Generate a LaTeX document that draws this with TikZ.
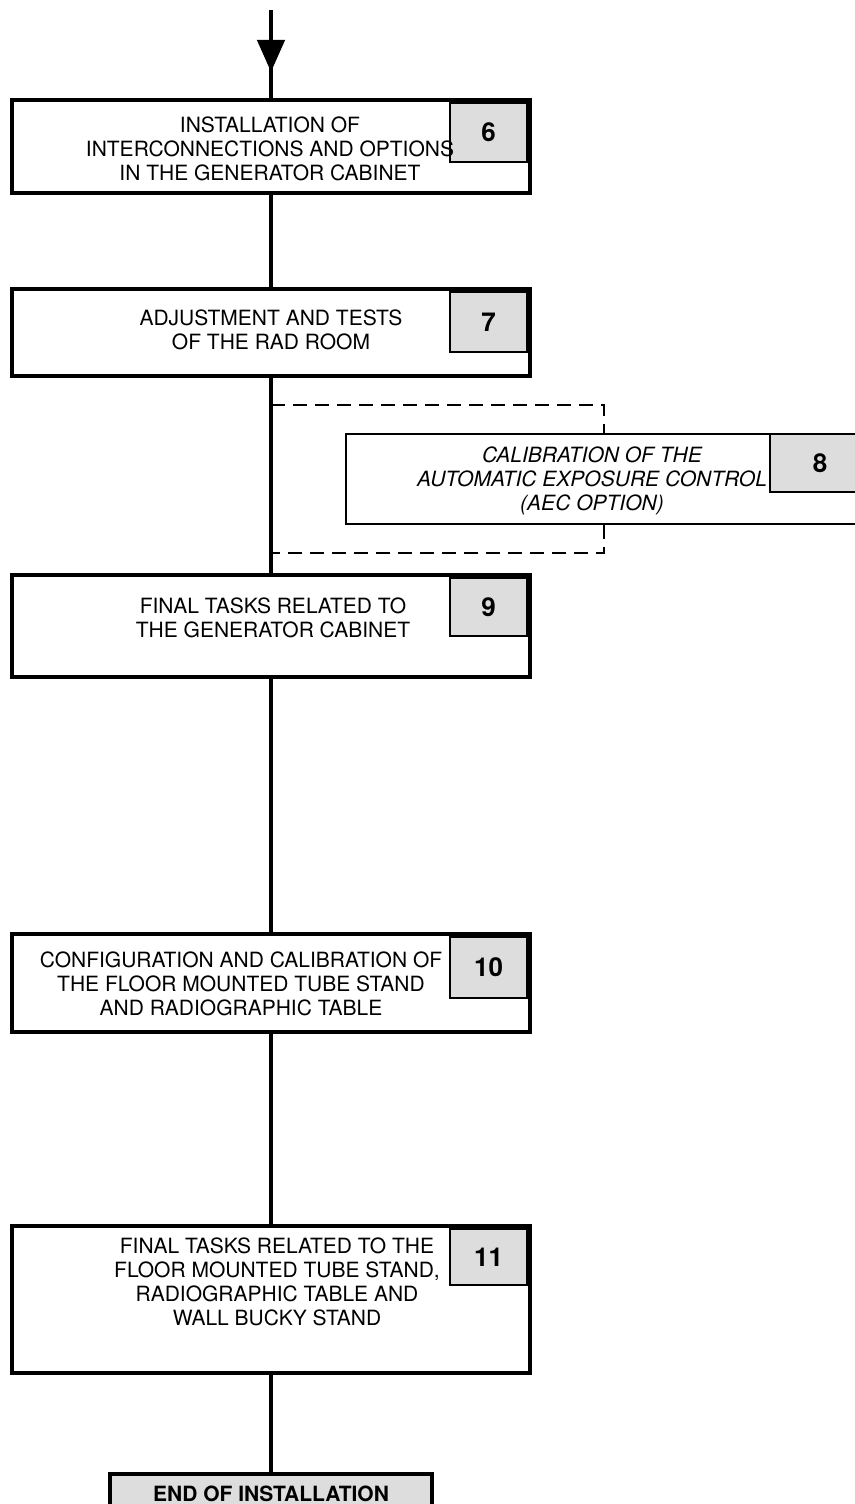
\documentclass[tikz,border=0pt]{standalone}
\usepackage{fontspec}
\setmainfont{TeX Gyre Heros}
\usetikzlibrary{positioning,arrows.meta,decorations.markings}
\definecolor{numgray}{RGB}{221,221,221}
\tikzset{
  flow/.style={line width=4.5pt},
  inarrow/.style={line width=4.5pt,postaction={decorate},decoration={markings,mark=at position 62pt with {\arrow{Triangle[length=32pt,width=27pt]}}}},
  optline/.style={line width=1.8pt,dash pattern=on 14pt off 8pt},
  stepbox/.style={draw,line width=4.5pt,fill=white,minimum width=518pt,inner sep=0pt},
  optbox/.style={draw,line width=1.8pt,fill=white,inner sep=0pt},
  numbox/.style={draw,line width=2pt,fill=numgray,minimum width=77pt,inner sep=0pt,font=\fontsize{26}{30}\selectfont\bfseries},
  steptxt/.style={align=center,font=\fontsize{21}{24}\selectfont,inner sep=0pt},
  endbox/.style={draw,line width=4.5pt,fill=numgray,minimum width=322pt,minimum height=40pt,font=\fontsize{21}{24}\selectfont\bfseries}
}
\begin{document}
\begin{tikzpicture}[x=1pt,y=-1pt]
  \useasboundingbox (0,0) rectangle (854,1504);
  % steps of the installation
  \node[stepbox,minimum height=93pt] (s6) at (271,146.5) {};
  \node[numbox,minimum height=59pt] (n6) at (488.5,132.5) {6};
  \node[steptxt] (t6) at (270,149) {INSTALLATION OF\\INTERCONNECTIONS AND OPTIONS\\IN THE GENERATOR CABINET};
  \node[stepbox,minimum height=87pt] (s7) at (271,332.5) {};
  \node[numbox,minimum height=60pt] (n7) at (488.5,322) {7};
  \node[steptxt] (t7) at (271,330) {ADJUSTMENT AND TESTS\\OF THE RAD ROOM};
  \node[optbox,minimum width=526pt,minimum height=90pt] (s8) at (609,479) {};
  \node[numbox,line width=1.8pt,minimum width=100pt,minimum height=58pt] (n8) at (820,463) {8};
  \node[steptxt,font=\fontsize{21}{24}\selectfont\itshape] (t8) at (592,481) {CALIBRATION OF THE\\AUTOMATIC EXPOSURE CONTROL\\(AEC OPTION)};
  \node[stepbox,minimum height=102pt] (s9) at (271,626) {};
  \node[numbox,minimum height=58pt] (n9) at (488.5,607) {9};
  \node[steptxt] (t9) at (273,618) {FINAL TASKS RELATED TO\\THE GENERATOR CABINET};
  \node[stepbox,minimum height=98pt] (s10) at (271,983) {};
  \node[numbox,minimum height=61pt] (n10) at (488.5,967.5) {10};
  \node[steptxt] (t10) at (241,984) {CONFIGURATION AND CALIBRATION OF\\THE FLOOR MOUNTED TUBE STAND\\AND RADIOGRAPHIC TABLE};
  \node[stepbox,minimum height=147pt] (s11) at (271,1299.5) {};
  \node[numbox,minimum height=56pt] (n11) at (488.5,1257) {11};
  \node[steptxt] (t11) at (277,1282) {FINAL TASKS RELATED TO THE\\FLOOR MOUNTED TUBE STAND,\\RADIOGRAPHIC TABLE AND\\WALL BUCKY STAND};
  \node[endbox] (fin) at (271,1494) {END OF INSTALLATION};
  % connections
  \coordinate (top) at (271,10);
  \coordinate (dtop) at (271,405);
  \coordinate (dtr) at (604,405);
  \coordinate (dbot) at (271,553);
  \draw[inarrow] (top) -- (s6.north);
  \draw[flow] (s6.south) -- (s7.north);
  \draw[flow] (s7.south) -- (s9.north);
  \draw[optline] (dtop) -- (dtr) -- (dtr |- s8.north);
  \draw[optline] (dtr |- s8.south) |- (dbot);
  \draw[flow] (s9.south) -- (s10.north);
  \draw[flow] (s10.south) -- (s11.north);
  \draw[flow] (s11.south) -- (fin.north);
\end{tikzpicture}
\end{document}
